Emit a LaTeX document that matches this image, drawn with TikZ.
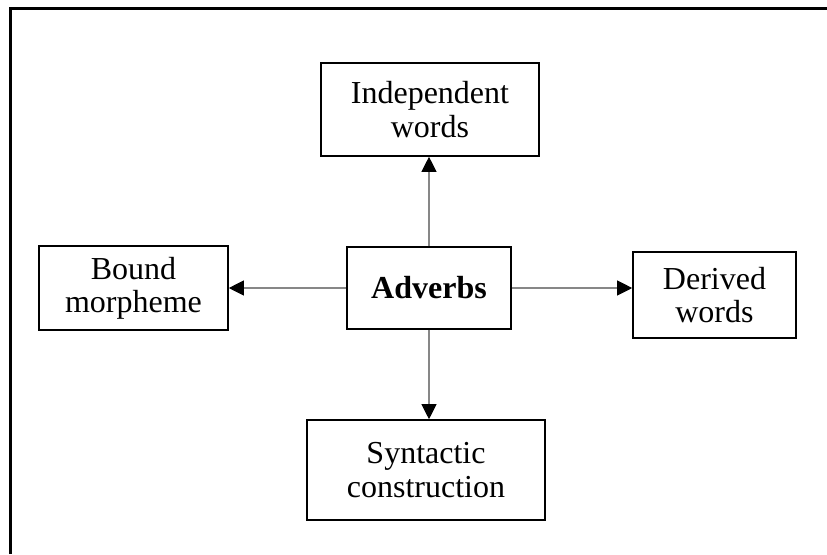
\documentclass[tikz,border=0pt]{standalone}
\usepackage{fontspec}
\setmainfont{Liberation Serif}
\usetikzlibrary{arrows.meta}
\definecolor{linkgray}{RGB}{135,135,135}
\begin{document}
\begin{tikzpicture}[x=0.5pt,y=-0.5pt,
  box/.style={draw=black,line width=0.8pt,align=center,inner sep=0pt,
    font=\fontsize{16}{16.6}\selectfont},
  link/.style={draw=linkgray,line width=0.55pt,
    -{Triangle[length=7.5pt,width=7.5pt,color=black]}},
  frame/.style={draw=black,line width=1.1pt}]
\useasboundingbox (0,0) rectangle (827,554);
% open frame: left and top edges only
\draw[frame] (10.5,554) -- (10.5,8.5) -- (827,8.5);
% boxes
\node[box,minimum width=82pt,minimum height=41pt,font=\fontsize{16}{16.6}\selectfont\bfseries] (adv) at (429,288) {Adverbs};
\node[box,minimum width=109pt,minimum height=46.5pt] (indep) at (430,109.5) {Independent\\words};
\node[box,minimum width=94.5pt,minimum height=42pt] (bound) at (133.5,288) {Bound\\morpheme};
\node[box,minimum width=81.5pt,minimum height=43pt] (derived) at (714.5,295) {Derived\\words};
\node[box,minimum width=119pt,minimum height=50pt] (synt) at (426,470) {Syntactic\\construction};
% links
\draw[link] (adv.north) -- (adv.north |- indep.south);
\draw[link] (adv.south) -- (adv.south |- synt.north);
\draw[link] (adv.west) -- (adv.west -| bound.east);
\draw[link] (adv.east) -- (adv.east -| derived.west);
\end{tikzpicture}
\end{document}
